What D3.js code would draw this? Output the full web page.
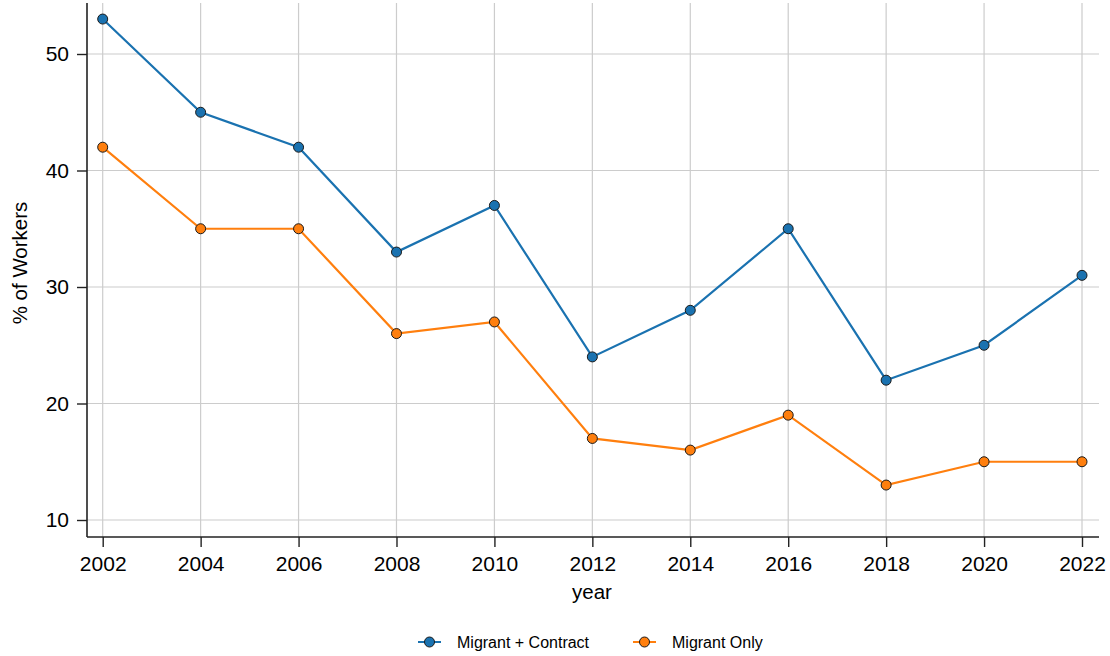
<!DOCTYPE html>
<html>
<head>
<meta charset="utf-8">
<script src="https://cdn.jsdelivr.net/npm/d3@7"></script>
<style>
  html, body { margin: 0; padding: 0; background: #fff; }
  svg { display: block; font-family: "Liberation Sans", Arial, sans-serif; }
</style>
</head>
<body>
<svg id="chart" width="1110" height="656"></svg>
<script>
// Share of workers by survey year
const years = [2002, 2004, 2006, 2008, 2010, 2012, 2014, 2016, 2018, 2020, 2022];
const migrantContract = [53, 45, 42, 33, 37, 24, 28, 35, 22, 25, 31];
const migrantOnly = [42, 35, 35, 26, 27, 17, 16, 19, 13, 15, 15];
const yTicks = [10, 20, 30, 40, 50];
const seriesNames = ["Migrant + Contract", "Migrant Only"];
const seriesColors = ["#1a72b0", "#ff7f0e"];

(function () {
  const svg = d3.select("#chart");

  // plot frame in pixels
  const frame = { left: 87, right: 1099, top: 3, bottom: 537 };

  const x = d3.scaleLinear().domain([2002, 2022]).range([102.7, 1082]);
  const y = d3.scaleLinear().domain([10, 50]).range([520, 54]);

  // gridlines
  const grid = svg.append("g");
  grid.selectAll("line.v").data(years).join("line").attr("class", "v")
    .attr("x1", d => x(d)).attr("x2", d => x(d))
    .attr("y1", frame.top).attr("y2", frame.bottom)
    .attr("stroke", "#cccccc").attr("stroke-width", 1.2);
  grid.selectAll("line.h").data(yTicks).join("line").attr("class", "h")
    .attr("x1", frame.left).attr("x2", frame.right)
    .attr("y1", d => y(d)).attr("y2", d => y(d))
    .attr("stroke", "#cccccc").attr("stroke-width", 1.2);

  // axes
  const xAxis = svg.append("g")
    .attr("transform", `translate(0,${frame.bottom})`)
    .call(d3.axisBottom(x).tickValues(years).tickFormat(d3.format("d")).tickSize(10).tickSizeOuter(0).tickPadding(9));
  xAxis.select(".domain").attr("d", `M${frame.left},0H${frame.right}`);
  const yAxis = svg.append("g")
    .attr("transform", `translate(${frame.left},0)`)
    .call(d3.axisLeft(y).tickValues(yTicks).tickSize(10).tickSizeOuter(0).tickPadding(8));
  yAxis.select(".domain").attr("d", `M0,${frame.top}V${frame.bottom}`);

  [xAxis, yAxis].forEach(a => {
    a.select(".domain").attr("stroke", "#222").attr("stroke-width", 1.6);
    a.selectAll(".tick line").attr("stroke", "#222").attr("stroke-width", 1.4);
    a.selectAll(".tick text").attr("fill", "#000").style("font-size", "21px")
      .style("font-family", "'Liberation Sans', Arial, sans-serif");
  });

  // axis titles
  svg.append("text").attr("x", 592).attr("y", 599).attr("text-anchor", "middle")
    .style("font-size", "20.5px").text("year");
  svg.append("text").attr("transform", "translate(26.5,263) rotate(-90)").attr("text-anchor", "middle")
    .style("font-size", "20.5px").text("% of Workers");

  // series lines and markers
  const seriesData = [migrantContract, migrantOnly];
  const line = d3.line().x((d, i) => x(years[i])).y(d => y(d));
  seriesData.forEach((vals, s) => {
    svg.append("path").datum(vals)
      .attr("d", line).attr("fill", "none")
      .attr("stroke", seriesColors[s]).attr("stroke-width", 2.2);
    svg.append("g").selectAll("circle").data(vals).join("circle")
      .attr("cx", (d, i) => x(years[i])).attr("cy", d => y(d)).attr("r", 5)
      .attr("fill", seriesColors[s]).attr("stroke", "#1a1a1a").attr("stroke-width", 1);
  });

  // legend
  const legendX = [418, 633];
  seriesNames.forEach((name, s) => {
    const g = svg.append("g").attr("transform", `translate(${legendX[s]},642)`);
    g.append("line").attr("x1", 0).attr("x2", 23).attr("stroke", seriesColors[s]).attr("stroke-width", 2);
    g.append("circle").attr("cx", 11.5).attr("r", 5).attr("fill", seriesColors[s])
      .attr("stroke", "#1a1a1a").attr("stroke-width", 1);
    g.append("text").attr("x", 39).attr("y", 5.5).style("font-size", "16px").text(name);
  });
})();
</script>
</body>
</html>
